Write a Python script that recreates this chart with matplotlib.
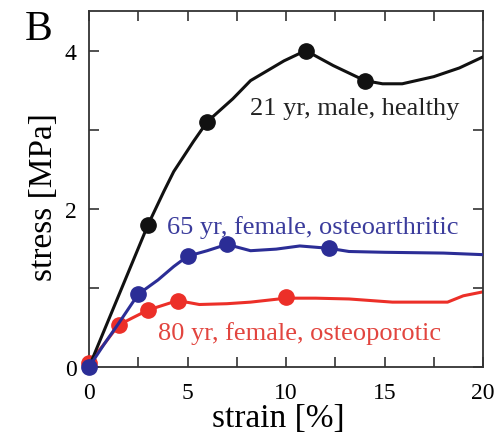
"""Stress-strain curves of trabecular bone for three donors (panel B)."""

import matplotlib
matplotlib.use("Agg")
import matplotlib.pyplot as plt
from matplotlib.ticker import MultipleLocator

plt.rcParams["font.family"] = ["Liberation Serif", "DejaVu Serif"]

# curve traces (strain %, stress MPa)
healthy_x = [0, 1.5, 3.0, 3.8, 4.3, 5.3, 6.0, 7.3, 8.2, 9.9, 11.0, 12.4, 14.0, 14.9, 15.9, 17.5, 18.8, 20.0]
healthy_y = [0, 0.9, 1.8, 2.22, 2.47, 2.85, 3.1, 3.39, 3.62, 3.87, 4.0, 3.81, 3.62, 3.58, 3.58, 3.67, 3.78, 3.92]
arthritic_x = [0, 0.8, 1.5, 2.5, 3.5, 4.3, 5.0, 6.0, 7.0, 8.2, 9.5, 10.7, 12.2, 13.2, 15.0, 18.0, 20.0]
arthritic_y = [0, 0.3, 0.55, 0.92, 1.1, 1.27, 1.4, 1.47, 1.55, 1.47, 1.49, 1.53, 1.5, 1.46, 1.45, 1.44, 1.42]
porotic_x = [0, 0.8, 1.5, 2.2, 3.0, 4.5, 5.6, 7.0, 8.2, 10.0, 11.5, 13.2, 15.4, 18.2, 19.0, 20.0]
porotic_y = [0.05, 0.3, 0.53, 0.62, 0.72, 0.84, 0.79, 0.8, 0.82, 0.87, 0.87, 0.86, 0.82, 0.82, 0.9, 0.95]

# highlighted points
healthy_mx = [3.0, 6.0, 11.0, 14.0]
healthy_my = [1.8, 3.1, 4.0, 3.62]
arthritic_mx = [0, 2.5, 5.0, 7.0, 12.2]
arthritic_my = [0, 0.92, 1.4, 1.55, 1.5]
porotic_mx = [0, 1.5, 3.0, 4.5, 10.0]
porotic_my = [0.05, 0.53, 0.72, 0.84, 0.88]

BLACK = "#111111"
BLUE = "#2b2d96"
RED = "#ec2f28"

fig = plt.figure(figsize=(5.01, 4.35), dpi=100)
ax = fig.add_axes([89 / 501, 1 - 368 / 435, (483 - 89) / 501, (368 - 12) / 435])

ax.plot(porotic_x, porotic_y, color=RED, lw=2.2, zorder=2)
ax.plot(porotic_mx, porotic_my, "o", color=RED, ms=11, zorder=3, clip_on=False)
ax.plot(healthy_x, healthy_y, color=BLACK, lw=2.2, zorder=4)
ax.plot(healthy_mx, healthy_my, "o", color=BLACK, ms=11, zorder=5)
ax.plot(arthritic_x, arthritic_y, color=BLUE, lw=2.2, zorder=6)
ax.plot(arthritic_mx, arthritic_my, "o", color=BLUE, ms=11, zorder=7, clip_on=False)

ax.text(8.15, 3.27, "21 yr, male, healthy", color="#222222", fontsize=19, va="center")
ax.text(3.95, 1.78, "65 yr, female, osteoarthritic", color="#3b3c9c", fontsize=19, va="center")
ax.text(3.5, 0.44, "80 yr, female, osteoporotic", color="#e2453f", fontsize=19, va="center")

ax.set_xlim(0, 20)
ax.set_ylim(0, 4.5)
ax.xaxis.set_major_locator(MultipleLocator(5))
ax.xaxis.set_minor_locator(MultipleLocator(2.5))
ax.yaxis.set_major_locator(MultipleLocator(2))
ax.yaxis.set_minor_locator(MultipleLocator(1))
ax.tick_params(which="both", direction="in", top=True, right=True, labelsize=17,
               width=1.2, color="#333333", length=7)
ax.tick_params(axis="x", pad=11)
ax.tick_params(axis="y", pad=9)
for spine in ax.spines.values():
    spine.set_linewidth(1.3)
    spine.set_color("#333333")

ax.set_xlabel("strain [%]", fontsize=24)
ax.xaxis.set_label_coords(0.48, -0.1)
ax.set_ylabel("stress [MPa]", fontsize=24)
ax.yaxis.set_label_coords(-0.076, 0.48)
fig.text(25 / 501, 1 - 30 / 435, "B", fontsize=30, va="center")

fig.savefig("out.png", dpi=100)
